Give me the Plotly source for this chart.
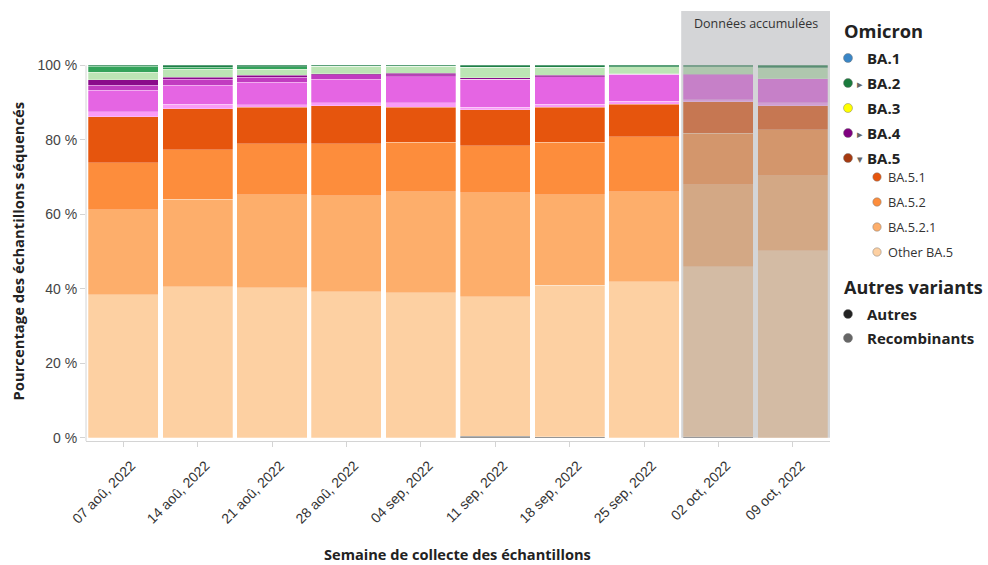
import plotly.graph_objects as go

# ---------------- data ----------------
weeks = ["07 aoû, 2022", "14 aoû, 2022", "21 aoû, 2022", "28 aoû, 2022", "04 sep, 2022",
         "11 sep, 2022", "18 sep, 2022", "25 sep, 2022", "02 oct, 2022", "09 oct, 2022"]

recombinants = [0, 0, 0, 0, 0, 0.4, 0.3, 0, 0.3, 0]
other_ba5 = [38.4, 40.5, 40.3, 39.2, 39.0, 37.5, 40.7, 41.9, 45.6, 50.2]
ba5_2_1 = [22.8, 23.6, 25.0, 25.8, 27.0, 27.9, 24.2, 24.1, 22.0, 20.1]
ba5_2 = [12.6, 13.2, 13.6, 14.0, 13.4, 12.6, 14.2, 14.8, 13.9, 12.4]
ba5_1 = [12.4, 11.0, 9.9, 10.1, 9.3, 9.6, 9.3, 8.7, 8.4, 6.5]
ba4_light = [1.3, 1.2, 0.6, 0.9, 1.2, 0.7, 0.8, 0.9, 0.6, 0.8]
ba4_6 = [5.8, 5.1, 6.1, 6.3, 7.0, 7.6, 7.4, 7.2, 6.7, 6.4]
ba4_mid = [1.3, 1.6, 1.3, 1.1, 0.6, 0, 0, 0, 0, 0]
ba4_dark = [1.5, 0.6, 0.5, 0.3, 0.3, 0.35, 0.45, 0.1, 0.1, 0]
ba2_light = [2.0, 2.1, 1.6, 2.0, 1.9, 2.8, 2.1, 1.9, 2.0, 2.9]
ba2_mid = [1.6, 0.6, 0.7, 0, 0, 0, 0, 0, 0, 0]
ba2_dark = [0.3, 0.5, 0.4, 0.3, 0.3, 0.5, 0.5, 0.4, 0.4, 0.7]

series = [
    ("Recombinants", recombinants, "#6e6e6e"),
    ("Other BA.5", other_ba5, "#fdd0a2"),
    ("BA.5.2.1", ba5_2_1, "#fdae6b"),
    ("BA.5.2", ba5_2, "#fd8d3c"),
    ("BA.5.1", ba5_1, "#e6550d"),
    ("BA.4 (autres)", ba4_light, "#f99cf7"),
    ("BA.4.6", ba4_6, "#e565e3"),
    ("BA.4.1", ba4_mid, "#c13cc0"),
    ("BA.4", ba4_dark, "#8a0a8a"),
    ("BA.2 (autres)", ba2_light, "#bce5b5"),
    ("BA.2.12.1", ba2_mid, "#33a35a"),
    ("BA.2", ba2_dark, "#1f7f48"),
]

legend_main = [("BA.1", "#3a86c6", "", 58), ("BA.2", "#1a7a3c", "▸", 83),
               ("BA.3", "#ffff00", "", 108), ("BA.4", "#800080", "▸", 133),
               ("BA.5", "#a63a10", "▾", 158)]
legend_sub = [("BA.5.1", "#e6550d", 177), ("BA.5.2", "#fd8d3c", 202),
              ("BA.5.2.1", "#fdae6b", 227), ("Other BA.5", "#fdd0a2", 252)]
legend_other = [("Autres", "#222222", 314), ("Recombinants", "#666666", 338)]

# ---------------- geometry ----------------
L, R, T, B = 86, 158, 11, 124
W, H = 988, 565
PW, PH = W - L - R, H - T - B
Y_MIN, Y_MAX = -0.86, 114.57


def px_x(px):
    return (px - L) / PW


def px_y(py):
    return (H - B - py) / PH


fig = go.Figure()
for name, vals, col in series:
    fig.add_trace(go.Bar(
        x=weeks, y=vals, name=name, marker_color=col,
        marker_line=dict(color="rgba(255,255,255,0.45)", width=0.6),
        showlegend=False,
        hovertemplate="%{x}<br>" + name + ": %{y:.1f} %<extra></extra>",
    ))

shapes = []
annotations = []

# y axis line only up to 100 %
shapes.append(dict(type="line", xref="paper", yref="y", x0=0, x1=0, y0=Y_MIN, y1=100,
                   line=dict(color="#d4d4d4", width=1)))

# shaded "accumulated data" region
shapes.append(dict(type="rect", xref="x", yref="y", x0=7.5, x1=9.5, y0=0, y1=Y_MAX,
                   fillcolor="rgba(160,161,166,0.45)", line=dict(width=0), layer="above"))
annotations.append(dict(text="Données accumulées", xref="x", yref="paper", x=8.5, y=px_y(23),
                        showarrow=False, xanchor="center", yanchor="middle",
                        font=dict(family="Open Sans", size=12.5, color="#333333")))

# axis titles
annotations.append(dict(text="<b>Pourcentage des échantillons séquencés</b>", xref="paper", yref="y",
                        x=px_x(18), y=50, textangle=-90, showarrow=False,
                        xanchor="center", yanchor="middle",
                        font=dict(family="Open Sans", size=14.8, color="#222222")))
annotations.append(dict(text="<b>Semaine de collecte des échantillons</b>", xref="paper", yref="paper",
                        x=px_x(457), y=px_y(554), showarrow=False, xanchor="center", yanchor="middle",
                        font=dict(family="Open Sans", size=14.6, color="#222222")))

# custom legend


def dot(cx, cy, col, r=4.5):
    shapes.append(dict(type="circle", xref="paper", yref="paper",
                       xsizemode="pixel", ysizemode="pixel",
                       xanchor=px_x(cx), yanchor=px_y(cy),
                       x0=-r, x1=r, y0=-r, y1=r, fillcolor=col,
                       line=dict(color="rgba(120,120,120,0.6)", width=0.8)))


def label(txt, x, y, size, bold=False, color="#222222"):
    annotations.append(dict(text=(f"<b>{txt}</b>" if bold else txt), xref="paper", yref="paper",
                            x=px_x(x), y=px_y(y), showarrow=False, xanchor="left", yanchor="middle",
                            font=dict(family="Open Sans", size=size, color=color)))


label("Omicron", 842, 31, 18.3, bold=True)
for name, col, tri, yy in legend_main:
    dot(848, yy, col)
    if tri:
        label(tri, 855, yy, 11, color="#666666")
    label(name, 865, yy, 15, bold=True)
for name, col, yy in legend_sub:
    dot(877, yy, col, r=4.2)
    label(name, 886, yy, 12.8, color="#333333")
label("Autres variants", 842, 287, 18, bold=True)
for name, col, yy in legend_other:
    dot(848, yy, col)
    label(name, 865, yy, 15, bold=True)

fig.update_layout(
    barmode="stack", bargap=0.057,
    width=W, height=H,
    margin=dict(l=L, r=R, t=T, b=B, autoexpand=False),
    plot_bgcolor="white", paper_bgcolor="white",
    showlegend=False,
    shapes=shapes, annotations=annotations,
    font=dict(family="Open Sans", color="#333333"),
)
fig.update_xaxes(type="category", categoryorder="array", categoryarray=weeks,
                 range=[-0.5, 9.5], tickangle=-45, showgrid=False,
                 showline=True, linecolor="#d4d4d4", linewidth=1,
                 ticks="outside", ticklen=5, tickcolor="#d4d4d4",
                 ticklabelshift=8, ticklabelstandoff=5,
                 tickfont=dict(family="Liberation Sans, Arial", size=14, color="#333333"))
fig.update_yaxes(range=[Y_MIN, Y_MAX], tickvals=[0, 20, 40, 60, 80, 100],
                 ticktext=["0 %", "20 %", "40 %", "60 %", "80 %", "100 %"],
                 showgrid=False, zeroline=False, showline=False,
                 ticks="outside", ticklen=5, tickcolor="#d4d4d4",
                 tickfont=dict(family="Liberation Sans, Arial", size=14, color="#444444"))

fig.write_html(
    "out.html",
    config={"displayModeBar": False},
    post_script="document.body.style.margin='0';document.body.style.padding='0';"
                "document.documentElement.style.overflow='hidden';",
)
